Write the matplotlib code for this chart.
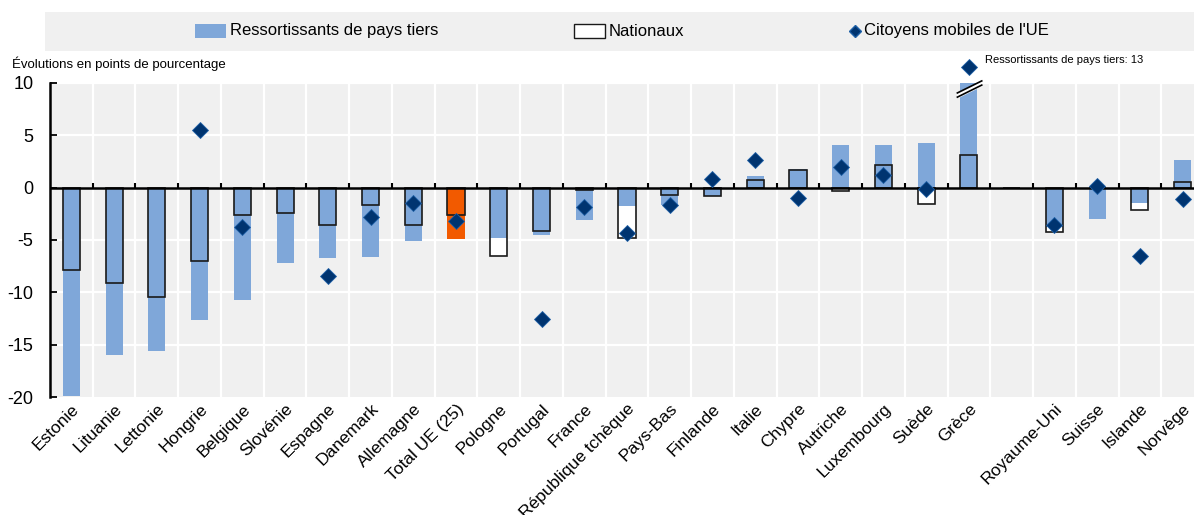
import numpy as np
import matplotlib
matplotlib.use("Agg")
import matplotlib.pyplot as plt
import matplotlib.patches as patches
from matplotlib.lines import Line2D

plt.rcParams['font.family'] = ['Liberation Sans Narrow', 'Liberation Sans', 'DejaVu Sans']
plt.rcParams['axes.unicode_minus'] = False

# Pays de l'UE (y compris le total), puis pays hors UE après un espace
pays_ue = ["Estonie", "Lituanie", "Lettonie", "Hongrie", "Belgique", "Slovénie",
           "Espagne", "Danemark", "Allemagne", "Total UE (25)", "Pologne", "Portugal",
           "France", "République tchèque", "Pays-Bas", "Finlande", "Italie", "Chypre",
           "Autriche", "Luxembourg", "Suède", "Grèce"]
pays_hors_ue = ["Royaume-Uni", "Suisse", "Islande", "Norvège"]

tiers_ue = [-19.9, -16.0, -15.6, -12.6, -10.7, -7.2, -6.75, -6.65, -5.1, -4.9, -4.85,
            -4.55, -3.1, -1.75, -1.65, -0.8, 1.1, 1.75, 4.05, 4.1, 4.3, 13.0]
nationaux_ue = [-7.9, -9.1, -10.4, -7.05, -2.6, -2.45, -3.6, -1.7, -3.55, -2.65, -6.55,
                -4.15, -0.25, -4.8, -0.7, -0.8, 0.7, 1.65, -0.3, 2.2, -1.55, 3.1]
mobiles_ue = [np.nan, np.nan, np.nan, 5.5, -3.75, np.nan, -8.45, -2.8, -1.45, -3.2,
              np.nan, -12.5, -1.85, -4.35, -1.7, 0.85, 2.6, -0.95, 1.95, 1.2, -0.15, 11.5]

tiers_hors = [-3.8, -2.95, -1.5, 2.65]
nationaux_hors = [-4.2, 0.0, -2.15, 0.55]
mobiles_hors = [-3.6, 0.15, -6.5, -1.05]

BLEU = "#7FA7D9"
ORANGE = "#F25A00"
MARINE = "#003470"
FOND = "#F0F0F0"

labels = pays_ue + [""] + pays_hors_ue
tiers = tiers_ue + [np.nan] + tiers_hors
nationaux = nationaux_ue + [np.nan] + nationaux_hors
mobiles = mobiles_ue + [np.nan] + mobiles_hors
x = np.arange(len(labels))
n = len(labels)

fig = plt.figure(figsize=(11.94, 5.15), dpi=100)
W, H = 1194, 515
ax = fig.add_axes([50 / W, 1 - 397 / H, 1154 / W, 314 / H])
ax.set_facecolor(FOND)

# grille
for b in np.arange(n + 1) - 0.5:
    ax.axvline(b, color="white", lw=1.6, zorder=0.5)
for gy in [-15, -10, -5, 5, 10]:
    ax.axhline(gy, color="white", lw=1.6, zorder=0.5)

w = 0.4
couleurs = [ORANGE if l.startswith("Total") else BLEU for l in labels]
tiers_aff = np.nan_to_num(np.array(tiers, dtype=float))
nat_aff = np.nan_to_num(np.array(nationaux, dtype=float))

ax.bar(x, nat_aff, width=w, color="white", edgecolor="none", zorder=1)
ax.bar(x, tiers_aff, width=w, color=couleurs, edgecolor="none", zorder=2)
ax.bar(x, nat_aff, width=w, facecolor="none", edgecolor="#1a1a1a", lw=1.2, zorder=3)
ax.plot(x, mobiles, ls="none", marker="D", ms=8, color=MARINE,
        markeredgecolor="#1d5fa6", markeredgewidth=0.6, zorder=5, clip_on=False)

# ligne zéro et petites graduations
ax.axhline(0, color="black", lw=1.8, zorder=4)
ax.vlines(np.arange(1, n) - 0.5, 0, 0.45, color="black", lw=1.5, zorder=4)

# rupture d'échelle pour la Grèce
ig = labels.index("Grèce")
xs = np.array([ig - 0.27, ig + 0.3])
y1 = np.array([9.05, 10.2])
y2 = y1 - 0.4
ax.fill_between(xs, y2, y1, color="white", zorder=6, clip_on=False)
ax.plot(xs, y1, color="black", lw=1.2, zorder=7, clip_on=False)
ax.plot(xs, y2, color="black", lw=1.2, zorder=7, clip_on=False)
ax.text(ig + 0.38, 12.2, "Ressortissants de pays tiers: %d" % tiers_ue[-1],
        fontsize=8, ha="left", va="center", clip_on=False)

ax.set_xlim(-0.5, n - 0.5)
ax.set_ylim(-20, 10)
ax.set_yticks([10, 5, 0, -5, -10, -15, -20])
ax.tick_params(axis="y", direction="in", length=5, width=1.3, labelsize=13, pad=12)
ax.set_xticks(x)
ax.set_xticklabels(labels, rotation=45, ha="right", va="top",
                   rotation_mode="anchor", fontsize=12.5)
ax.tick_params(axis="x", length=0, pad=3)
for s in ["top", "right", "bottom"]:
    ax.spines[s].set_visible(False)
ax.spines["left"].set_linewidth(1.8)

fig.text(12 / W, 1 - 64 / H, "Évolutions en points de pourcentage",
         fontsize=9.5, ha="left", va="center")

# légende (placée à la main, en pixels)
def fx(px):
    return px / W

def fy(py):
    return 1 - py / H

fig.patches.append(patches.Rectangle((fx(45), fy(51)), fx(1149), 39 / H,
                                     transform=fig.transFigure, facecolor=FOND,
                                     edgecolor="none", zorder=0))
ly = 31
fig.patches.append(patches.Rectangle((fx(195), fy(ly + 7)), fx(31), 14 / H,
                                     transform=fig.transFigure, facecolor=BLEU,
                                     edgecolor="none", zorder=1))
fig.text(fx(230), fy(ly), "Ressortissants de pays tiers", fontsize=12,
         ha="left", va="center")
fig.patches.append(patches.Rectangle((fx(574), fy(ly + 7)), fx(31), 14 / H,
                                     transform=fig.transFigure, facecolor="white",
                                     edgecolor="#1a1a1a", lw=1.0, zorder=1))
fig.text(fx(609), fy(ly), "Nationaux", fontsize=12, ha="left", va="center")
fig.lines.append(Line2D([fx(855)], [fy(ly)], transform=fig.transFigure, ls="none",
                        marker="D", ms=6.5, color=MARINE, markeredgecolor="#1d5fa6"))
fig.text(fx(864), fy(ly), "Citoyens mobiles de l'UE", fontsize=12,
         ha="left", va="center")

fig.savefig("out.png", dpi=100)
